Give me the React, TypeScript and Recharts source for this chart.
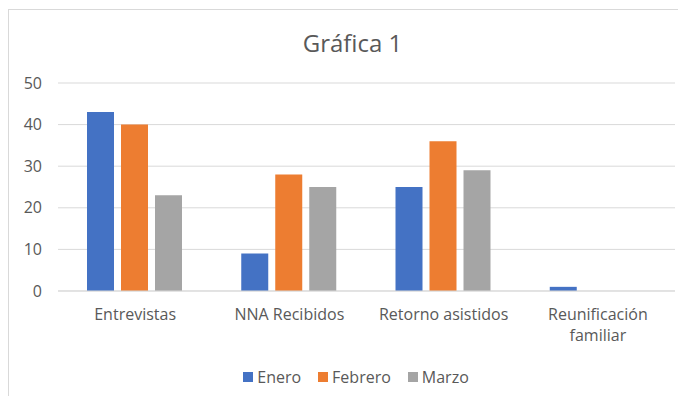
import { BarChart, Bar, XAxis, YAxis, CartesianGrid, Legend } from 'recharts'

const categories = ['Entrevistas', 'NNA Recibidos', 'Retorno asistidos', 'Reunificación familiar']
const enero = [43, 9, 25, 1]
const febrero = [40, 28, 36, 0]
const marzo = [23, 25, 29, 0]
const yTicks = [0, 10, 20, 30, 40, 50]

const series = [
	{ key: 'enero', name: 'Enero', color: '#4472C4' },
	{ key: 'febrero', name: 'Febrero', color: '#ED7D31' },
	{ key: 'marzo', name: 'Marzo', color: '#A5A5A5' },
]

const data = categories.map((name, i) => ({
	name,
	enero: enero[i],
	febrero: febrero[i],
	marzo: marzo[i],
}))

const FONT = '"Open Sans", Lato, sans-serif'
const TEXT = '#595959'

function CategoryTick({ x, y, payload }: any) {
	const label: string = payload.value
	// long labels wrap onto two lines like the spreadsheet does
	const lines = label.length > 18 ? [label.split(' ')[0], label.split(' ').slice(1).join(' ')] : [label]
	return (
		<text x={x} y={y} textAnchor='middle' fill={TEXT} fontSize={16} fontFamily={FONT}>
			{lines.map((l, i) => (
				<tspan key={i} x={x} dy={i === 0 ? 29 : 21}>
					{l}
				</tspan>
			))}
		</text>
	)
}

function LegendContent() {
	return (
		<div
			style={{
				display: 'flex',
				justifyContent: 'center',
				alignItems: 'center',
				height: 22,
				paddingLeft: 37,
				fontFamily: FONT,
				fontSize: 16,
				color: TEXT,
			}}
		>
			{series.map((s) => (
				<div key={s.key} style={{ display: 'flex', alignItems: 'center', margin: '0 8.5px' }}>
					<span style={{ width: 10, height: 10, background: s.color, marginRight: 4, display: 'inline-block' }} />
					{s.name}
				</div>
			))}
		</div>
	)
}

export default function App() {
	return (
		<div style={{ margin: -8, width: 686, height: 404, position: 'relative', overflow: 'hidden', background: '#fff' }}>
			<div
				style={{
					position: 'absolute',
					left: 8,
					top: 9,
					width: 720,
					height: 420,
					border: '1px solid #D9D9D9',
					boxSizing: 'border-box',
				}}
			/>
			<div
				style={{
					position: 'absolute',
					left: 0,
					width: 705,
					top: 26,
					textAlign: 'center',
					fontFamily: FONT,
					fontSize: 24,
					color: TEXT,
				}}
			>
				Gráfica 1
			</div>
			<div style={{ position: 'absolute', left: 0, top: 0 }}>
				<BarChart
					width={686}
					height={404}
					data={data}
					margin={{ top: 83, right: 11, left: 0, bottom: 26 }}
					barCategoryGap={29}
					barGap={7}
				>
					<CartesianGrid vertical={false} stroke='#D9D9D9' strokeWidth={1} />
					<YAxis
						width={58}
						domain={[0, 50]}
						ticks={yTicks}
						axisLine={false}
						tickLine={false}
						tickSize={0}
						tickMargin={16}
						tick={{ fill: TEXT, fontSize: 16, fontFamily: FONT }}
					/>
					<XAxis
						dataKey='name'
						height={65}
						axisLine={{ stroke: '#D9D9D9' }}
						tickLine={false}
						tickSize={0}
						tickMargin={0}
						interval={0}
						tick={<CategoryTick />}
					/>
					<Legend verticalAlign='bottom' wrapperStyle={{ top: 366, bottom: 'auto' }} content={<LegendContent />} />
					{series.map((s) => (
						<Bar key={s.key} dataKey={s.key} name={s.name} fill={s.color} isAnimationActive={false} />
					))}
				</BarChart>
			</div>
		</div>
	)
}
